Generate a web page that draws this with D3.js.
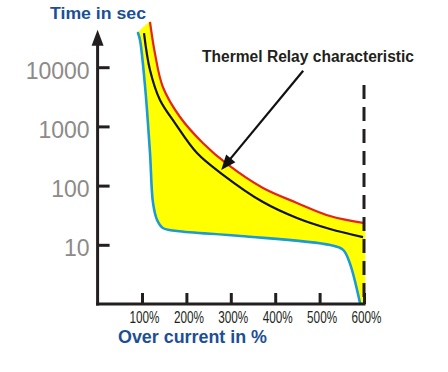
<!DOCTYPE html>
<html><head><meta charset="utf-8">
<script src="https://cdn.jsdelivr.net/npm/d3@7"></script>
<style>html,body{margin:0;padding:0;background:#fff;}svg{display:block;}</style>
</head><body>
<svg id="chart" width="448" height="372"></svg>
<script>
// ---- data (x: over current in %, y: time in seconds) ----
const redPct   = [118, 129, 147, 185.6, 237, 291.4, 372.5, 449, 523.4, 598];
const redSec   = [58000, 17400, 4630, 1442, 525, 232, 91, 51, 30.6, 23.4];
const blackPct = [104.5, 118, 140.5, 174.3, 223.9, 280.2, 372.5, 449, 523.4, 597.7];
const blackSec = [37800, 8970, 2790, 1141, 355, 157, 52.8, 28.4, 18.5, 13.5];
const bluePct  = [91, 95.5, 107, 118, 124.8, 134, 147, 179, 321, 524, 553, 568, 591];
const blueSec  = [37800, 28800, 4630, 356, 51, 26.2, 19.2, 17.1, 14.1, 9.9, 8.2, 4.9, 1.04];
const yTicks = [10, 100, 1000, 10000];
const yTickLabels = ["10", "100", "1000", "10000"];
const xTicks = [100, 200, 300, 400, 500, 600];
const xTickLabels = ["100%", "200%", "300%", "400%", "500%", "600%"];
const limitPct = 600;          // dashed limit line
const limitTopSec = 5000;
const arrowFrom = [463, 8700]; // annotation arrow
const arrowTo = [278.4, 184];
const yTopSec = 43000;         // top of y axis arrow

const svg = d3.select("#chart");
const x = d3.scaleLinear().domain([0, 600]).range([97.6, 364]);
const y = d3.scaleLog().domain([1, 10000]).range([304, 67.2]);

const zip = (a, b) => a.map((v, i) => [v, b[i]]);
const red = zip(redPct, redSec), black = zip(blackPct, blackSec), blue = zip(bluePct, blueSec);
const line = d3.line().x(d => x(d[0])).y(d => y(d[1])).curve(d3.curveCatmullRom.alpha(0.5));

// yellow band
const rightEdge = [[601, redSec[redSec.length - 1]], [601, 1]];
const fillD = line(red) + "L" + rightEdge.map(d => x(d[0]) + "," + y(d[1])).join("L")
  + "L" + line(blue.slice().reverse()).slice(1) + "Z";
svg.append("path").attr("d", fillD).attr("fill", "#ffff00").attr("stroke", "#ffff00").attr("stroke-width", 1.5);

svg.append("path").attr("d", line(blue)).attr("fill", "none").attr("stroke", "#1b9ad8").attr("stroke-width", 2.6).attr("stroke-linecap", "round");
svg.append("path").attr("d", line(red)).attr("fill", "none").attr("stroke", "#e42421").attr("stroke-width", 2.2);
svg.append("path").attr("d", line(black)).attr("fill", "none").attr("stroke", "#111").attr("stroke-width", 2.2);

// dashed limit line
svg.append("line").attr("x1", x(limitPct)).attr("x2", x(limitPct))
  .attr("y1", y(limitTopSec)).attr("y2", y(1))
  .attr("stroke", "#231f20").attr("stroke-width", 3).attr("stroke-dasharray", "14,8");

// axes
const ink = "#231f20";
const yAxis = svg.append("g").attr("transform", `translate(${x(0)},0)`)
  .call(d3.axisLeft(y).tickValues(yTicks).tickFormat((d, i) => yTickLabels[i]).tickSize(-12).tickPadding(8));
yAxis.select(".domain").remove();
yAxis.selectAll(".tick line").attr("stroke", ink).attr("stroke-width", 3);
yAxis.selectAll(".tick text").attr("dy", "11").attr("fill", "#8d8a88")
  .attr("font-family", "Liberation Sans, Arial, sans-serif").attr("font-size", 23);

const xAxis = svg.append("g").attr("transform", `translate(0,${y(1)})`)
  .call(d3.axisBottom(x).tickValues(xTicks).tickFormat((d, i) => xTickLabels[i]).tickSize(-11).tickPadding(0));
xAxis.select(".domain").remove();
xAxis.selectAll(".tick line").attr("stroke", ink).attr("stroke-width", 3);
xAxis.selectAll(".tick text").attr("y", 19).attr("dy", 0).attr("dx", 2).attr("fill", ink)
  .attr("font-family", "Liberation Sans Narrow, Liberation Sans, Arial, sans-serif").attr("font-size", 16)
  .attr("textLength", 30).attr("lengthAdjust", "spacingAndGlyphs");

// axis lines
svg.append("line").attr("x1", x(0)).attr("x2", x(0)).attr("y1", y(yTopSec) + 12).attr("y2", y(1) + 1.5)
  .attr("stroke", ink).attr("stroke-width", 3);
svg.append("line").attr("x1", x(0) - 1.5).attr("x2", x(600) + 1.5).attr("y1", y(1)).attr("y2", y(1))
  .attr("stroke", ink).attr("stroke-width", 3);
const ax = x(0), ay = y(yTopSec);
svg.append("path").attr("d", `M${ax},${ay}L${ax + 6},${ay + 16}L${ax - 6},${ay + 16}Z`).attr("fill", ink);

// annotation arrow
const fx = x(arrowFrom[0]), fy = y(arrowFrom[1]), tx = x(arrowTo[0]), ty = y(arrowTo[1]);
const ang = Math.atan2(ty - fy, tx - fx), L = 15, W = 6;
const bx = tx - L * Math.cos(ang), by = ty - L * Math.sin(ang);
svg.append("line").attr("x1", fx).attr("y1", fy).attr("x2", bx + 2 * Math.cos(ang)).attr("y2", by + 2 * Math.sin(ang))
  .attr("stroke", "#111").attr("stroke-width", 2.2);
svg.append("path").attr("d", `M${tx},${ty}L${bx - W * Math.sin(ang)},${by + W * Math.cos(ang)}L${bx + W * Math.sin(ang)},${by - W * Math.cos(ang)}Z`)
  .attr("fill", "#111");

// titles
const blueInk = "#1c4f95";
svg.append("text").attr("x", 50).attr("y", 19).text("Time in sec")
  .attr("fill", blueInk).attr("font-family", "Liberation Sans, Arial, sans-serif").attr("font-weight", "bold")
  .attr("font-size", 17).attr("textLength", 96).attr("lengthAdjust", "spacingAndGlyphs");
svg.append("text").attr("x", 118).attr("y", 343).text("Over current in %")
  .attr("fill", blueInk).attr("font-family", "Liberation Sans, Arial, sans-serif").attr("font-weight", "bold")
  .attr("font-size", 18).attr("textLength", 149).attr("lengthAdjust", "spacingAndGlyphs");
svg.append("text").attr("x", 202).attr("y", 62).text("Thermel Relay characteristic")
  .attr("fill", "#231f20").attr("font-family", "Liberation Sans, Arial, sans-serif").attr("font-weight", "bold")
  .attr("font-size", 16).attr("textLength", 212).attr("lengthAdjust", "spacingAndGlyphs");
</script>
</body></html>
